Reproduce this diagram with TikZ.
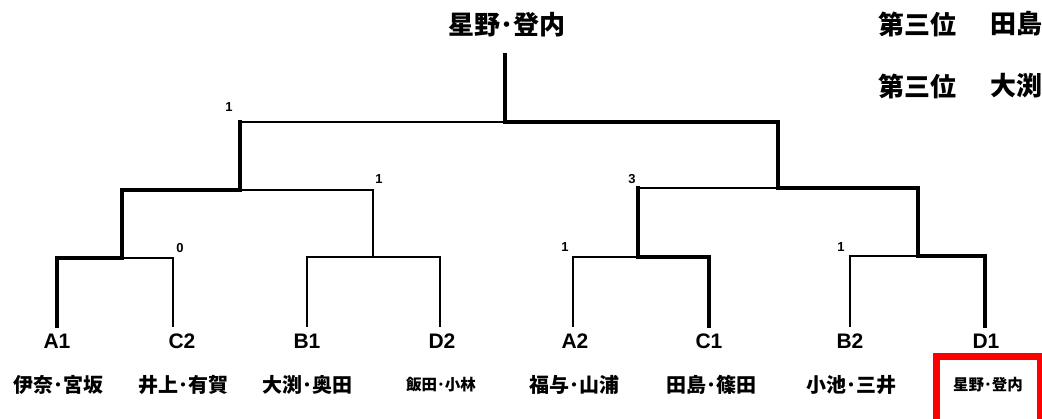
\documentclass[tikz,border=0pt]{standalone}
\usepackage{fontspec}
\setmainfont{Liberation Sans}
\newfontfamily\jp{Noto Sans CJK JP}
\begin{document}
\begin{tikzpicture}[x=1pt,y=-1pt,
  thinln/.style={line width=1.6pt,line join=miter,line cap=rect},
  thickln/.style={line width=4.5pt,line join=miter,line cap=rect},
  seed/.style={font=\fontsize{21}{21}\selectfont\bfseries,inner sep=0pt},
  pname/.style={font=\jp\bfseries\fontsize{20}{20}\selectfont,inner sep=0pt},
  sname/.style={font=\jp\bfseries\fontsize{15.5}{15.5}\selectfont,inner sep=0pt},
  bname/.style={font=\jp\bfseries\fontsize{26}{26}\selectfont,inner sep=0pt},
  score/.style={font=\fontsize{13}{13}\selectfont\bfseries,inner sep=0pt}]
\useasboundingbox (0,0) rectangle (1042,418);
\clip (0,0) rectangle (1042,418);
% leaf tops
\coordinate (tA1) at (57,326);
\coordinate (tC2) at (173,326);
\coordinate (tB1) at (307,326);
\coordinate (tD2) at (440,326);
\coordinate (tA2) at (573,326);
\coordinate (tC1) at (709,326);
\coordinate (tB2) at (850,326);
\coordinate (tD1) at (985,326);
% joins
\coordinate (m1) at (122,258);
\coordinate (m2) at (373,257);
\coordinate (m3) at (638,257);
\coordinate (m4) at (918,256);
\coordinate (s1) at (240,190);
\coordinate (s2) at (778,188);
\coordinate (q3) at (638,188);
\coordinate (fl) at (240,122);
\coordinate (fr) at (778,122);
\coordinate (f) at (505,122);
\coordinate (top) at (505,55);
% thin lines
\draw[thinln] (tC2) |- (m1);
\draw[thinln] (tB1) |- (m2);
\draw[thinln] (tD2) |- (m2);
\draw[thinln] (m2) |- (s1);
\draw[thinln] (fl) -- (f);
\draw[thinln] (tA2) |- (m3);
\draw[thinln] (q3) -- (s2);
\draw[thinln] (tB2) |- (m4);
% thick lines
\draw[thickln] (tA1) |- (m1) |- (s1) -- (fl);
\draw[thickln] (tC1) |- (m3) -- (q3);
\draw[thickln] (tD1) |- (m4) |- (s2) -- (fr) -- (f) -- (top);
% seeds
\node[seed] (lA1) at (57,341) {A1};
\node[seed] (lC2) at (182,341) {C2};
\node[seed] (lB1) at (307,341) {B1};
\node[seed] (lD2) at (442,341) {D2};
\node[seed] (lA2) at (575,341) {A2};
\node[seed] (lC1) at (709,341) {C1};
\node[seed] (lB2) at (850,341) {B2};
\node[seed] (lD1) at (986,341) {D1};
% names
\node[pname] (n1) at (58,385) {伊奈･宮坂};
\node[pname] (n2) at (183,385) {井上･有賀};
\node[pname] (n3) at (307,385) {大渕･奥田};
\node[sname] (n4) at (441,385) {飯田･小林};
\node[pname] (n5) at (574,385) {福与･山浦};
\node[pname] (n6) at (711,385) {田島･篠田};
\node[pname] (n7) at (851,385) {小池･三井};
\node[sname] (n8) at (988,385) {星野･登内};
\draw[red,line width=7pt] (936.5,356.5) rectangle (1040.5,430);
% scores
\node[score] (sc1) at (229,107) {1};
\node[score] (sc2) at (379,179) {1};
\node[score] (sc3) at (180,248) {0};
\node[score] (sc4) at (632,179) {3};
\node[score] (sc5) at (565,247) {1};
\node[score] (sc6) at (841,247) {1};
% champion and third places
\node[bname] (champ) at (507,25) {星野･登内};
\node[bname,anchor=west] (third1) at (878,24) {第三位};
\node[bname,anchor=west] (third1n) at (990,24) {田島};
\node[bname,anchor=west] (third2) at (878,86) {第三位};
\node[bname,anchor=west] (third2n) at (990,86) {大渕};
\end{tikzpicture}
\end{document}
